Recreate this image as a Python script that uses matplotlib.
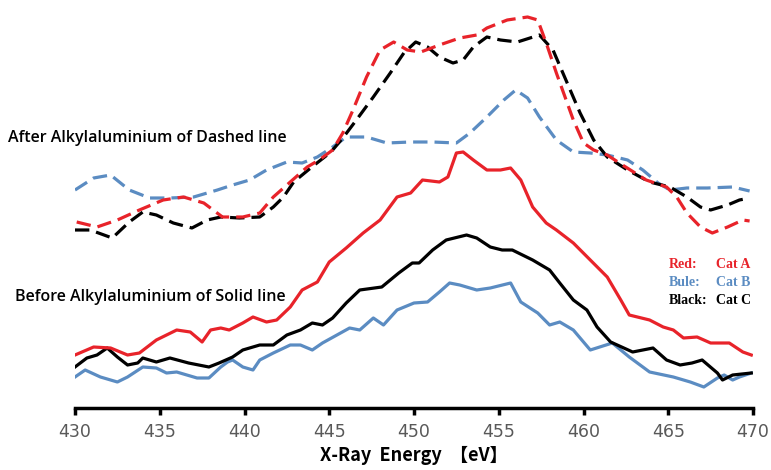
import matplotlib
matplotlib.use("Agg")
import matplotlib.pyplot as plt

# dashed = after alkylaluminium, solid = before; intensity in arbitrary units
ev_a_after = [430.1, 431.3, 432.5, 433.8, 435.2, 436.4, 437.6, 438.7, 439.9, 440.9, 441.7, 442.7, 443.7, 444.4,
              445.2, 445.8, 446.4, 447.2, 448.0, 448.8, 449.6, 450.4, 451.5, 452.7, 453.7, 454.3, 455.5, 456.7,
              457.3, 457.8, 458.4, 459.4, 460.0, 460.6, 461.4, 462.3, 463.7, 464.9, 465.5, 466.1, 466.9, 467.6,
              468.5, 469.4, 469.8]
a_after = [186, 181, 188, 198, 208, 211, 205, 191, 191, 195, 211, 226, 241, 248, 258, 275, 298, 331, 358, 366,
           358, 356, 363, 370, 373, 380, 388, 391, 388, 365, 335, 288, 265, 258, 253, 243, 228, 221, 211, 195,
           181, 175, 181, 188, 187]

ev_c_after = [430.0, 430.9, 432.2, 433.2, 434.0, 434.8, 435.8, 436.9, 437.8, 438.6, 439.7, 440.9, 441.7, 442.3,
              442.9, 443.9, 445.1, 445.8, 446.6, 447.6, 448.6, 449.4, 450.1, 450.8, 451.5, 452.3, 452.9, 453.5,
              454.3, 455.1, 456.1, 457.4, 458.2, 459.8, 460.6, 461.4, 462.6, 463.9, 465.1, 466.1, 466.9, 467.5,
              468.5, 469.2, 469.8]
c_after = [178, 178, 170, 186, 196, 193, 185, 180, 188, 191, 190, 191, 201, 211, 226, 240, 256, 270, 288, 311,
           335, 355, 366, 361, 351, 345, 348, 361, 371, 368, 366, 373, 358, 295, 268, 251, 238, 226, 221, 211,
           201, 198, 203, 208, 210]

ev_b_after = [430.0, 431.1, 432.1, 433.2, 434.4, 435.6, 437.0, 438.4, 439.3, 440.3, 441.3, 442.5, 443.4, 444.3,
              445.2, 446.0, 447.2, 448.4, 449.8, 451.1, 452.5, 453.3, 454.3, 455.3, 456.0, 456.7, 457.4, 458.4,
              459.4, 460.4, 461.4, 462.6, 463.5, 464.4, 465.1, 466.1, 467.3, 468.8, 469.8]
b_after = [218, 230, 233, 218, 210, 210, 211, 218, 223, 228, 238, 246, 245, 251, 261, 271, 271, 265, 266, 266,
           265, 275, 291, 308, 318, 310, 291, 268, 256, 255, 253, 248, 238, 225, 218, 220, 220, 221, 217]

ev_a_before = [430.0, 431.1, 432.1, 433.1, 433.8, 434.8, 436.0, 436.8, 437.5, 438.0, 438.6, 439.1, 439.9, 440.5,
               441.3, 441.9, 442.7, 443.4, 444.3, 445.0, 446.0, 447.0, 448.0, 449.0, 449.8, 450.5, 451.5, 452.0,
               452.5, 452.9, 453.5, 454.3, 455.1, 455.7, 456.3, 457.0, 457.8, 458.4, 459.4, 460.4, 461.4, 462.2,
               462.7, 463.9, 464.7, 465.3, 465.9, 466.7, 467.5, 468.6, 469.4, 469.9]
a_before = [53, 61, 60, 53, 55, 68, 78, 76, 66, 78, 80, 78, 85, 91, 86, 88, 101, 118, 126, 146, 160, 175, 188,
            211, 215, 228, 226, 231, 255, 256, 248, 238, 238, 240, 228, 201, 185, 178, 165, 148, 131, 108, 93,
            88, 81, 78, 70, 71, 65, 65, 56, 53]

ev_c_before = [430.0, 430.7, 431.3, 431.9, 432.5, 433.1, 433.7, 434.0, 434.8, 435.6, 436.7, 437.9, 438.5, 439.3,
               439.9, 440.9, 441.7, 442.5, 443.3, 444.0, 444.6, 445.2, 446.0, 446.8, 448.1, 449.1, 449.9, 450.3,
               451.1, 451.9, 453.1, 453.7, 454.5, 455.2, 455.8, 457.0, 458.0, 458.6, 459.4, 460.2, 460.8, 461.6,
               462.9, 464.1, 464.9, 465.7, 466.4, 467.0, 467.9, 468.2, 468.8, 469.9]
c_before = [41, 50, 53, 60, 51, 43, 45, 50, 46, 50, 45, 41, 45, 51, 58, 63, 63, 73, 78, 85, 83, 90, 105, 118,
            121, 135, 145, 145, 158, 168, 173, 170, 161, 158, 158, 148, 138, 125, 108, 98, 81, 66, 56, 60, 48,
            43, 45, 48, 35, 28, 33, 35]

ev_b_before = [430.0, 430.6, 431.5, 432.5, 433.1, 434.0, 434.8, 435.4, 436.0, 437.2, 437.9, 438.6, 439.0, 439.3,
               439.9, 440.5, 440.9, 441.7, 442.7, 443.3, 444.0, 444.6, 446.2, 446.8, 447.6, 448.2, 449.0, 450.0,
               450.8, 451.5, 452.1, 452.7, 453.7, 454.5, 455.7, 456.3, 457.3, 458.0, 458.6, 459.4, 460.4, 461.7,
               462.7, 463.9, 465.3, 466.3, 467.1, 467.9, 468.3, 468.8, 469.2, 469.9]
b_before = [31, 38, 31, 26, 31, 41, 40, 35, 36, 30, 30, 41, 46, 48, 41, 38, 48, 55, 63, 63, 58, 65, 80, 78, 90,
            83, 98, 105, 106, 116, 125, 123, 118, 120, 125, 106, 95, 83, 86, 78, 58, 65, 51, 36, 31, 26, 21, 30,
            33, 28, 31, 35]

xticks = [430, 435, 440, 445, 450, 455, 460, 465, 470]

RED = "#e8232a"
BLUE = "#5b8cc2"
BLACK = "#000000"

fig = plt.figure(figsize=(7.71, 4.70), dpi=100)
ax = fig.add_axes([75 / 771, 62 / 470, 678 / 771, 398 / 470])

lw = 2.3
dash = (0, (4.5, 2.2))
ax.plot(ev_b_after, b_after, color=BLUE, lw=lw, linestyle=dash)
ax.plot(ev_c_after, c_after, color=BLACK, lw=lw, linestyle=dash)
ax.plot(ev_a_after, a_after, color=RED, lw=lw, linestyle=dash)
ax.plot(ev_b_before, b_before, color=BLUE, lw=lw)
ax.plot(ev_c_before, c_before, color=BLACK, lw=lw)
ax.plot(ev_a_before, a_before, color=RED, lw=lw)

ax.set_xlim(430, 470)
ax.set_ylim(0, 398)
for s in ["top", "right", "left"]:
    ax.spines[s].set_visible(False)
ax.spines["bottom"].set_linewidth(2.5)
ax.set_yticks([])
ax.set_xticks(xticks)
ax.tick_params(axis="x", length=5, width=2.5, colors=BLACK, labelcolor="#595959",
               labelsize=12.5, pad=6)
ax.set_xlabel("X-Ray  Energy  【eV】", family=["Noto Sans CJK JP", "DejaVu Sans"],
              fontsize=13, fontweight="bold", labelpad=3)

fig.text(8 / 771, 1 - 138 / 470, "After Alkylaluminium of Dashed line", fontsize=11.5,
         fontweight="semibold", family="Open Sans", va="center")
fig.text(15 / 771, 1 - 297 / 470, "Before Alkylaluminium of Solid line", fontsize=11.5,
         fontweight="semibold", family="Open Sans", va="center")

legend_rows = [("Red:", "Cat A", RED, RED), ("Bule:", "Cat B", BLUE, BLUE), ("Black:", "Cat C", BLACK, BLACK)]
for i, (k, v, c1, c2) in enumerate(legend_rows):
    y = 1 - (265 + 18 * i) / 470
    fig.text(669 / 771, y, k, color=c1, fontsize=10, fontweight="bold", family="Liberation Serif", va="center")
    fig.text(716 / 771, y, v, color=c2, fontsize=10, fontweight="bold", family="Liberation Serif", va="center")

fig.savefig("out.png", dpi=100)
